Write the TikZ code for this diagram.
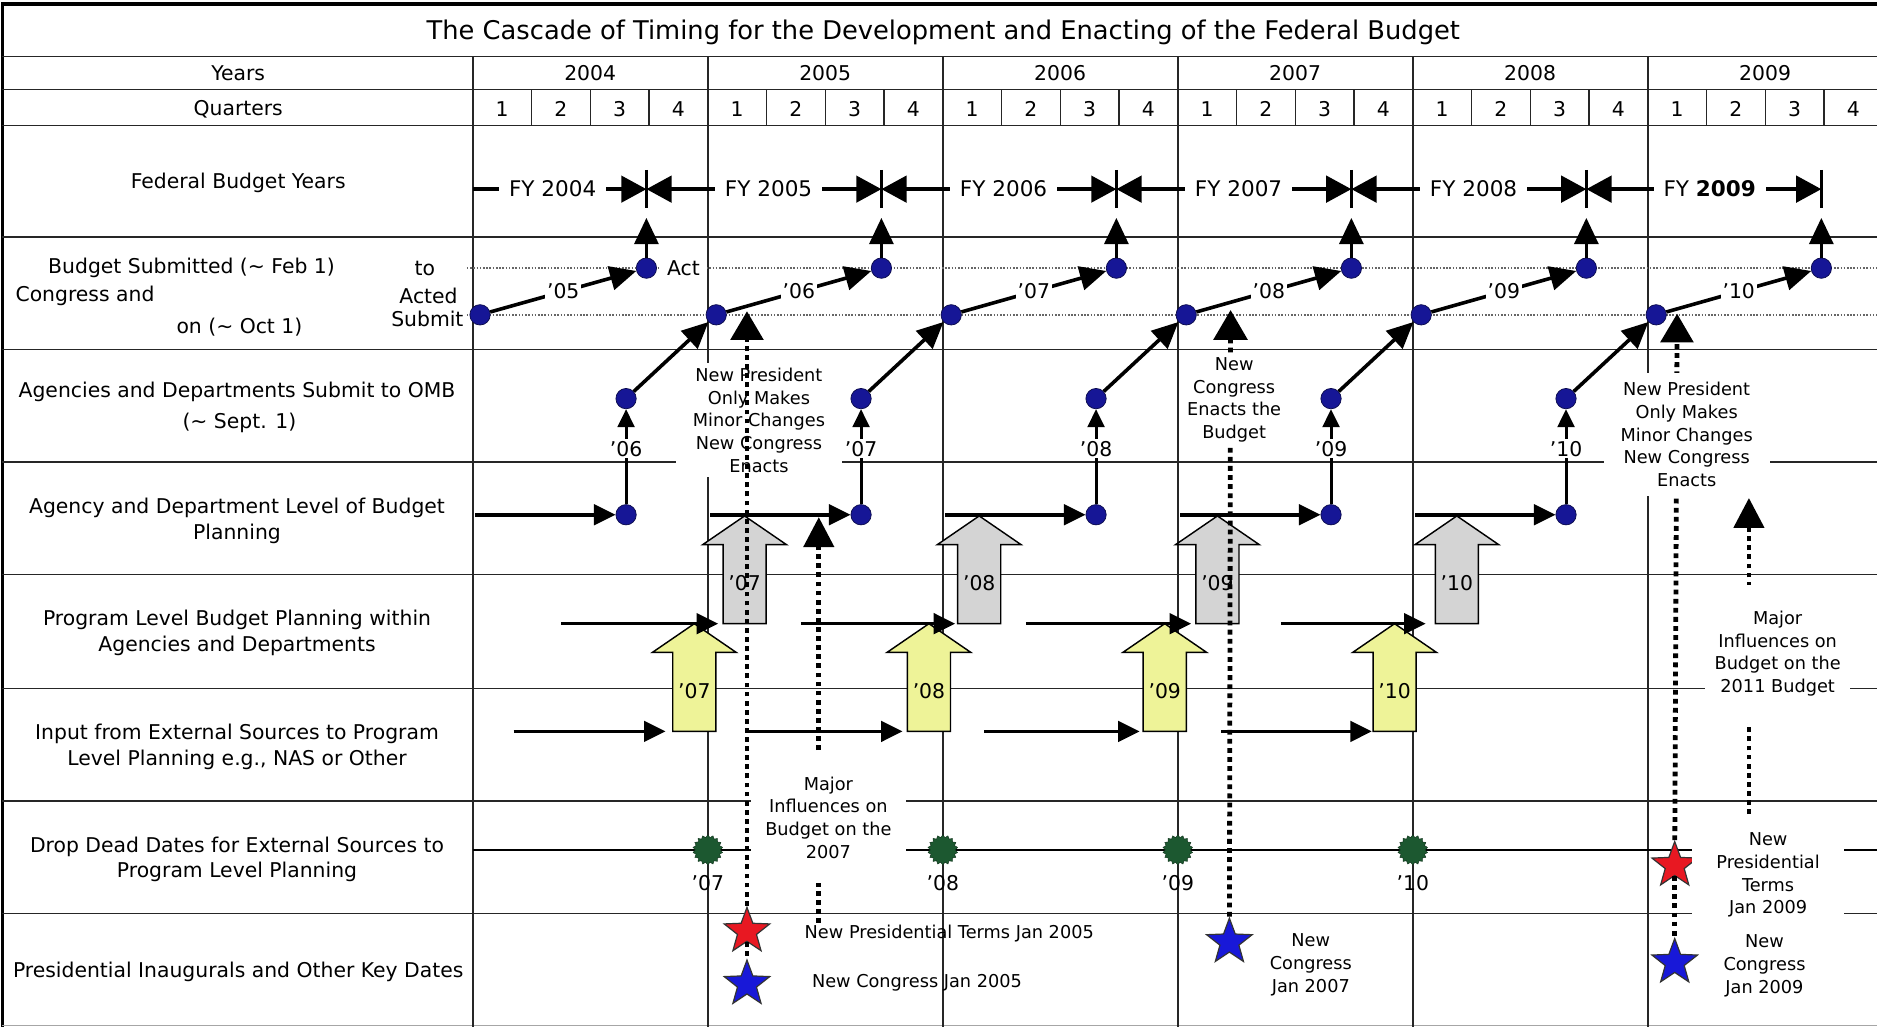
\documentclass[tikz,border=0pt]{standalone}
\usepackage{fontspec}
\setmainfont{DejaVu Sans}
\usetikzlibrary{arrows.meta,shapes.geometric}
\definecolor{dotblue}{RGB}{22,22,150}
\definecolor{arrgray}{RGB}{212,212,212}
\definecolor{arryel}{RGB}{238,243,152}
\definecolor{dgreen}{RGB}{28,88,48}
\definecolor{sred}{RGB}{232,24,34}
\definecolor{sblue}{RGB}{24,24,216}
\newcommand\blkarrow[5]{%
  \draw[line width=1.2pt, fill=#4] (#2,#3) -- ++(35,24) -- ++(-17,0) -- ++(0,66) -- ++(-36,0) -- ++(0,-66) -- ++(-17,0) -- cycle;
  \node (#1) at (#2,#3+56) {#5};}
\begin{document}
\begin{tikzpicture}[x=1pt,y=-1pt,font=\fontsize{17}{21}\selectfont,
  gridline/.style={draw=black!85,line width=1.2pt},
  thindots/.style={draw=black!60,line width=1.3pt,dash pattern=on 1.3pt off 1.4pt},
  bigdots/.style={line width=4pt,dash pattern=on 4pt off 3.6pt},
  mainarr/.style={line width=3pt,-{Triangle[length=22pt,width=20pt]}},
  hzarr/.style={line width=3pt,-{Triangle[length=18pt,width=17pt]}},
  smallarr/.style={line width=2.5pt,-{Triangle[length=15pt,width=14pt]}},
  fytip/.style={line width=3pt},
  bdot/.style={circle,fill=dotblue,draw=dotblue!50!black,line width=0.6pt,minimum size=17pt,inner sep=0pt},
  gdot/.style={star,star points=18,star point ratio=1.2,fill=dgreen,draw=dgreen!60!black,minimum size=25pt,inner sep=0pt},
  rstar/.style={star,star points=5,star point ratio=2.4,fill=sred,draw=black!80,line width=1pt,minimum size=40pt,inner sep=0pt},
  bstar/.style={star,star points=5,star point ratio=2.4,fill=sblue,draw=black!80,line width=1pt,minimum size=40pt,inner sep=0pt},
  wlab/.style={fill=white,inner sep=1.5pt},
  fylab/.style={fill=white,inner xsep=8pt,inner ysep=2pt,font=\fontsize{18}{20}\selectfont},
  note/.style={font=\fontsize{14.8}{19}\selectfont,align=center,fill=white,inner xsep=4pt,inner ysep=3pt},
  rowlab/.style={align=center,font=\fontsize{17}{21.5}\selectfont}
]
\useasboundingbox (0,0) rectangle (1568,858);
% ---------- grid ----------
\draw[line width=3pt] (1,3.5) -- (1568,3.5);
\draw[line width=2.5pt] (2.5,3) -- (2.5,858);
\draw[draw=black!35,line width=1pt] (2,856.5) -- (1568,856.5);
\foreach \yy in {47,75,105,198,292,386,480,575,669,763} \draw[gridline] (2,\yy) -- (1568,\yy);
\draw[gridline] (395,47) -- (395,858);
\foreach \i in {1,...,5} \draw[gridline] ({395+196.3*\i},47) -- ({395+196.3*\i},858);
\foreach \i in {0,...,5} \foreach \q in {1,2,3}
  \draw[gridline] ({395+196.3*\i+49.075*\q},75) -- ({395+196.3*\i+49.075*\q},105);
% ---------- header ----------
\node[font=\fontsize{21.5}{26}\selectfont] (title) at (788,27) {The Cascade of Timing for the Development and Enacting of the Federal Budget};
\node (yrs) at (199,61) {Years};
\node (qrs) at (199,91) {Quarters};
\foreach \yr [count=\i from 0] in {2004,2005,2006,2007,2008,2009} {
  \node (y\yr) at ({395+196.3*\i+98},61) {\yr};
  \foreach \q in {1,2,3,4} \node (q\i\q) at ({395+196.3*\i+49.075*(\q-0.5)},91) {\q};
}
% ---------- row labels ----------
\node[rowlab] (l1) at (199,153) {Federal Budget Years};
\node (l2a) at (160,224) {Budget Submitted (\textasciitilde\ Feb 1)};
\node (l2b) at (355,224) {to};
\node (l2c) at (71,247) {Congress and};
\node (l2d) at (358,247) {Acted};
\node (l2e) at (200,273) {on (\textasciitilde\ Oct 1)};
\node (l2f) at (357,266) {Submit};
\node (l3a) at (198,327) {Agencies and Departments Submit to OMB};
\node (l3b) at (200,353) {(\textasciitilde\ Sept. 1)};
\node[rowlab] (l4) at (198,435) {Agency and Department Level of Budget\\Planning};
\node[rowlab] (l5) at (198,529) {Program Level Budget Planning within\\Agencies and Departments};
\node[rowlab] (l6) at (198,624) {Input from External Sources to Program\\Level Planning e.g., NAS or Other};
\node[rowlab] (l7) at (198,718) {Drop Dead Dates for External Sources to\\Program Level Planning};
\node[rowlab] (l8) at (199,812) {Presidential Inaugurals and Other Key Dates};
% ---------- row 2 dotted guide lines ----------
\draw[thindots] (390,224) -- (1568,224);
\draw[thindots] (390,263) -- (1568,263);
% ---------- block arrows ----------
\blkarrow{ga1}{622}{431}{arrgray}{'07}
\blkarrow{ga2}{818}{431}{arrgray}{'08}
\blkarrow{ga3}{1017}{431}{arrgray}{'09}
\blkarrow{ga4}{1217}{431}{arrgray}{'10}
\blkarrow{ya1}{580}{521}{arryel}{'07}
\blkarrow{ya2}{776}{521}{arryel}{'08}
\blkarrow{ya3}{973}{521}{arryel}{'09}
\blkarrow{ya4}{1165}{521}{arryel}{'10}
% ---------- drop dead line ----------
\draw[line width=1.8pt] (395,710) -- (1568,710);
% ---------- dots ----------
\foreach \i in {0,...,5} {
  \node[bdot] (act\i) at ({540+196.3*\i},224) {};
  \coordinate (barup\i) at ({540+196.3*\i},182);
  \coordinate (bar\i) at ({540+196.3*\i},158);
  \draw[line width=3pt] ({540+196.3*\i},142) -- ({540+196.3*\i},174);
}
\node[bdot] (sub0) at (401,263) {};
\foreach \i in {1,...,5} \node[bdot] (sub\i) at ({395+196.3*\i+7},263) {};
\foreach \i in {0,...,4} {
  \node[bdot] (omb\i) at ({523+196.3*\i},333) {};
  \node[bdot] (pl\i) at ({523+196.3*\i},430) {};
}
\foreach \i/\l in {1/07,2/08,3/09,4/10} {
  \node[gdot] (dd\i) at ({395+196.3*\i},710) {};
  \node (ddl\i) at ({395+196.3*\i},738) {'\l};
}
\node[rstar] (rs1) at (624,778) {};
\node[bstar] (bs1) at (624,822) {};
\node[bstar] (bs2) at (1027,787) {};
\node[rstar] (rs3) at (1399,723) {};
\node[bstar] (bs3) at (1399,804) {};
% ---------- FY row ----------
\coordinate (fys) at (395,158);
\draw[fytip,-{Triangle[length=21pt,width=22pt]}] (fys) -- node[fylab,pos=0.46] (fy2004) {FY 2004} (bar0);
\foreach \i/\j/\yr in {0/1/2005,1/2/2006,2/3/2007,3/4/2008}
  \draw[fytip,{Triangle[length=21pt,width=22pt]}-{Triangle[length=21pt,width=22pt]}] (bar\i) -- node[fylab,pos=0.52] (fy\yr) {FY \yr} (bar\j);
\draw[fytip,{Triangle[length=21pt,width=22pt]}-{Triangle[length=21pt,width=22pt]}] (bar4) -- node[fylab,pos=0.525] (fy2009) {FY \textbf{2009}} (bar5);
% ---------- connectors ----------
\foreach \i in {0,...,5} \draw[mainarr] (act\i) -- (barup\i);
\foreach \i/\l in {0/05,1/06,2/07,3/08,4/09,5/10}
  \draw[mainarr] (sub\i) -- node[wlab] (dl\i) {'\l} (act\i);
\foreach \i/\j in {0/1,1/2,2/3,3/4,4/5} \draw[mainarr] (omb\i) -- (sub\j);
\foreach \i/\l in {0/06,1/07,2/08,3/09,4/10} {
  \draw[smallarr] (pl\i) -- (omb\i);
  \node[wlab] (ol\i) at ({523+196.3*\i},375) {'\l};
  \coordinate (r4s\i) at ({397+196.3*\i},430);
  \draw[hzarr] (r4s\i) -- (pl\i);
}
\foreach \i/\a/\b in {0/469/600,1/669/798,2/857/995,3/1070/1191} {
  \coordinate (r5s\i) at (\a,521); \coordinate (r5e\i) at (\b,521);
  \draw[hzarr] (r5s\i) -- (r5e\i);
}
\foreach \i/\a/\b in {0/429/556,1/626/754,2/822/952,3/1020/1146} {
  \coordinate (r6s\i) at (\a,611); \coordinate (r6e\i) at (\b,611);
  \draw[hzarr] (r6s\i) -- (r6e\i);
}
% ---------- dotted influence lines (under their notes) ----------
\coordinate (d2bot) at (684,771); \coordinate (d2tip) at (684,432);
\draw[bigdots,-{Triangle[length=25pt,width=25pt]}] (d2bot) -- (d2tip);
\coordinate (d3tip) at (1028,259);
\draw[bigdots,-{Triangle[length=25pt,width=28pt]}] (bs2) -- (d3tip);
\coordinate (d4tip) at (1401,262);
\draw[bigdots,-{Triangle[length=24pt,width=27pt]}] (rs3) -- (d4tip);
\draw[bigdots] (rs3) -- (bs3);
\coordinate (d5bot) at (1461,680); \coordinate (d5tip) at (1461,416);
\draw[bigdots,-{Triangle[length=25pt,width=25pt]}] (d5bot) -- (d5tip);
% ---------- notes ----------
\node[wlab,inner xsep=6pt] (actlab) at (571,224) {Act};
\node[note] (t2) at (1031,334) {New\\Congress\\Enacts the\\Budget};
\node[note,inner xsep=14pt,inner ysep=8pt] (t3) at (1409,363) {New President\\Only Makes\\Minor Changes\\New Congress\\Enacts};
\node[note,inner xsep=12pt,inner ysep=20pt] (t4) at (692,683) {Major\\Influences on\\Budget on the\\2007};
\node[note,inner xsep=8pt,inner ysep=22pt] (t5) at (1485,546) {Major\\Influences on\\Budget on the\\2011 Budget};
\node[note,inner xsep=20pt,inner ysep=5pt] (t9) at (1477,731) {New\\Presidential\\Terms\\Jan 2009};
\node[note,inner xsep=14pt,inner ysep=4pt] (t1) at (634,351) {New President\\Only Makes\\Minor Changes\\New Congress\\Enacts};
% ---------- dotted line over note ----------
\coordinate (d1tip) at (624,260);
\draw[bigdots,-{Triangle[length=24pt,width=27pt]}] (rs1) -- (d1tip);
\draw[bigdots] (rs1) -- (bs1);
% ---------- plain annotations ----------
\node[font=\fontsize{14.8}{19}\selectfont] (t6) at (793,780) {New Presidential Terms Jan 2005};
\node[font=\fontsize{14.8}{19}\selectfont] (t7) at (766,821) {New Congress Jan 2005};
\node[font=\fontsize{14.8}{19}\selectfont,align=center] (t8) at (1095,806) {New\\Congress\\Jan 2007};
\node[font=\fontsize{14.8}{19}\selectfont,align=center] (t10) at (1474,807) {New\\Congress\\Jan 2009};
\end{tikzpicture}
\end{document}
